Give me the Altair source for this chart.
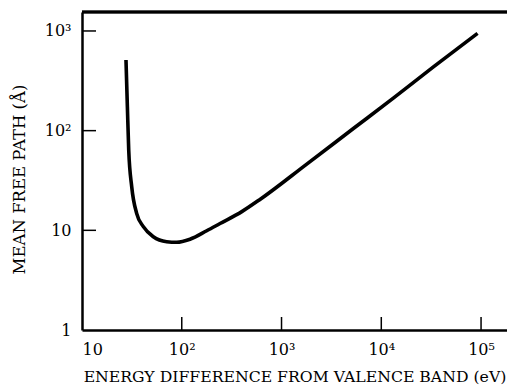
import altair as alt
import pandas as pd

# Curve (energy in eV, mean free path in Å)
energy = [27.6, 28.5, 29.4, 31.5, 35.3, 41.2, 51.9, 70.6, 88.9, 121, 178, 242,
          400, 608, 1790, 5250, 13200, 33300, 92200]
mfp = [511, 174, 64, 27.4, 14.8, 10.9, 8.63, 7.69, 7.58, 8.13, 9.9, 11.7,
       15.4, 20.4, 46.2, 105, 212, 436, 946]

x_ticks = [10, 100, 1000, 10000, 100000]
x_tick_labels = ["10", "10²", "10³", "10⁴", "10⁵"]
y_ticks = [1, 10, 100, 1000]
y_tick_labels = ["1", "10", "10²", "10³"]

W, H = 425, 318
X_DOMAIN = [10, 182000]
Y_DOMAIN = [1, 1550]
FONT = "DejaVu Serif"

df = pd.DataFrame({"energy": energy, "mfp": mfp})

def label_expr(vals, labels):
    parts = " : ".join(f"datum.value == {v} ? '{l}'" for v, l in zip(vals, labels))
    return parts + " : ''"

xscale = alt.Scale(type="log", domain=X_DOMAIN, nice=False)
yscale = alt.Scale(type="log", domain=Y_DOMAIN, nice=False)

line = alt.Chart(df).mark_line(color="black", strokeWidth=3.6, interpolate="monotone").encode(
    x=alt.X("energy:Q", scale=xscale,
            axis=alt.Axis(values=x_ticks, labelExpr=label_expr(x_ticks, x_tick_labels),
                          title="ENERGY DIFFERENCE FROM VALENCE BAND (eV)",
                          titleFontSize=15.7,
                          tickSize=0, labelPadding=11, titlePadding=12, labelFlush=True,
                          domainWidth=2.5, domainColor="black", grid=False)),
    y=alt.Y("mfp:Q", scale=yscale,
            axis=alt.Axis(values=y_ticks, labelExpr=label_expr(y_ticks, y_tick_labels),
                          title="MEAN FREE PATH (Å)", titleY=167, titleFontSize=16.5,
                          tickSize=0, labelPadding=11, titlePadding=17,
                          domainWidth=2.5, domainColor="black", grid=False)),
)

xt = pd.DataFrame({"v": x_ticks[1:]})
yt = pd.DataFrame({"v": y_ticks[1:]})

xticks = alt.Chart(xt).mark_rule(color="black", strokeWidth=1.5).encode(
    x=alt.X("v:Q", scale=xscale), y=alt.value(H), y2=alt.value(H - 13))
yticks = alt.Chart(yt).mark_rule(color="black", strokeWidth=1.5).encode(
    y=alt.Y("v:Q", scale=yscale), x=alt.value(0), x2=alt.value(14))
top = alt.Chart(xt).mark_rule(color="black", strokeWidth=2.5).encode(
    x=alt.value(0), x2=alt.value(W), y=alt.value(0))

chart = alt.layer(line, xticks, yticks, top).properties(
    width=W, height=H,
    autosize=alt.AutoSizeParams(type="none"),
    padding={"left": 82, "top": 12, "right": 0, "bottom": 57},
).configure(background="white").configure_view(stroke=None).configure_axis(
    labelFont=FONT, labelFontSize=16, labelColor="black",
    titleFont=FONT, titleFontSize=16, titleColor="black", titleFontWeight="normal",
)

chart.save("out.html", embed_options={"renderer": "svg", "actions": False})
